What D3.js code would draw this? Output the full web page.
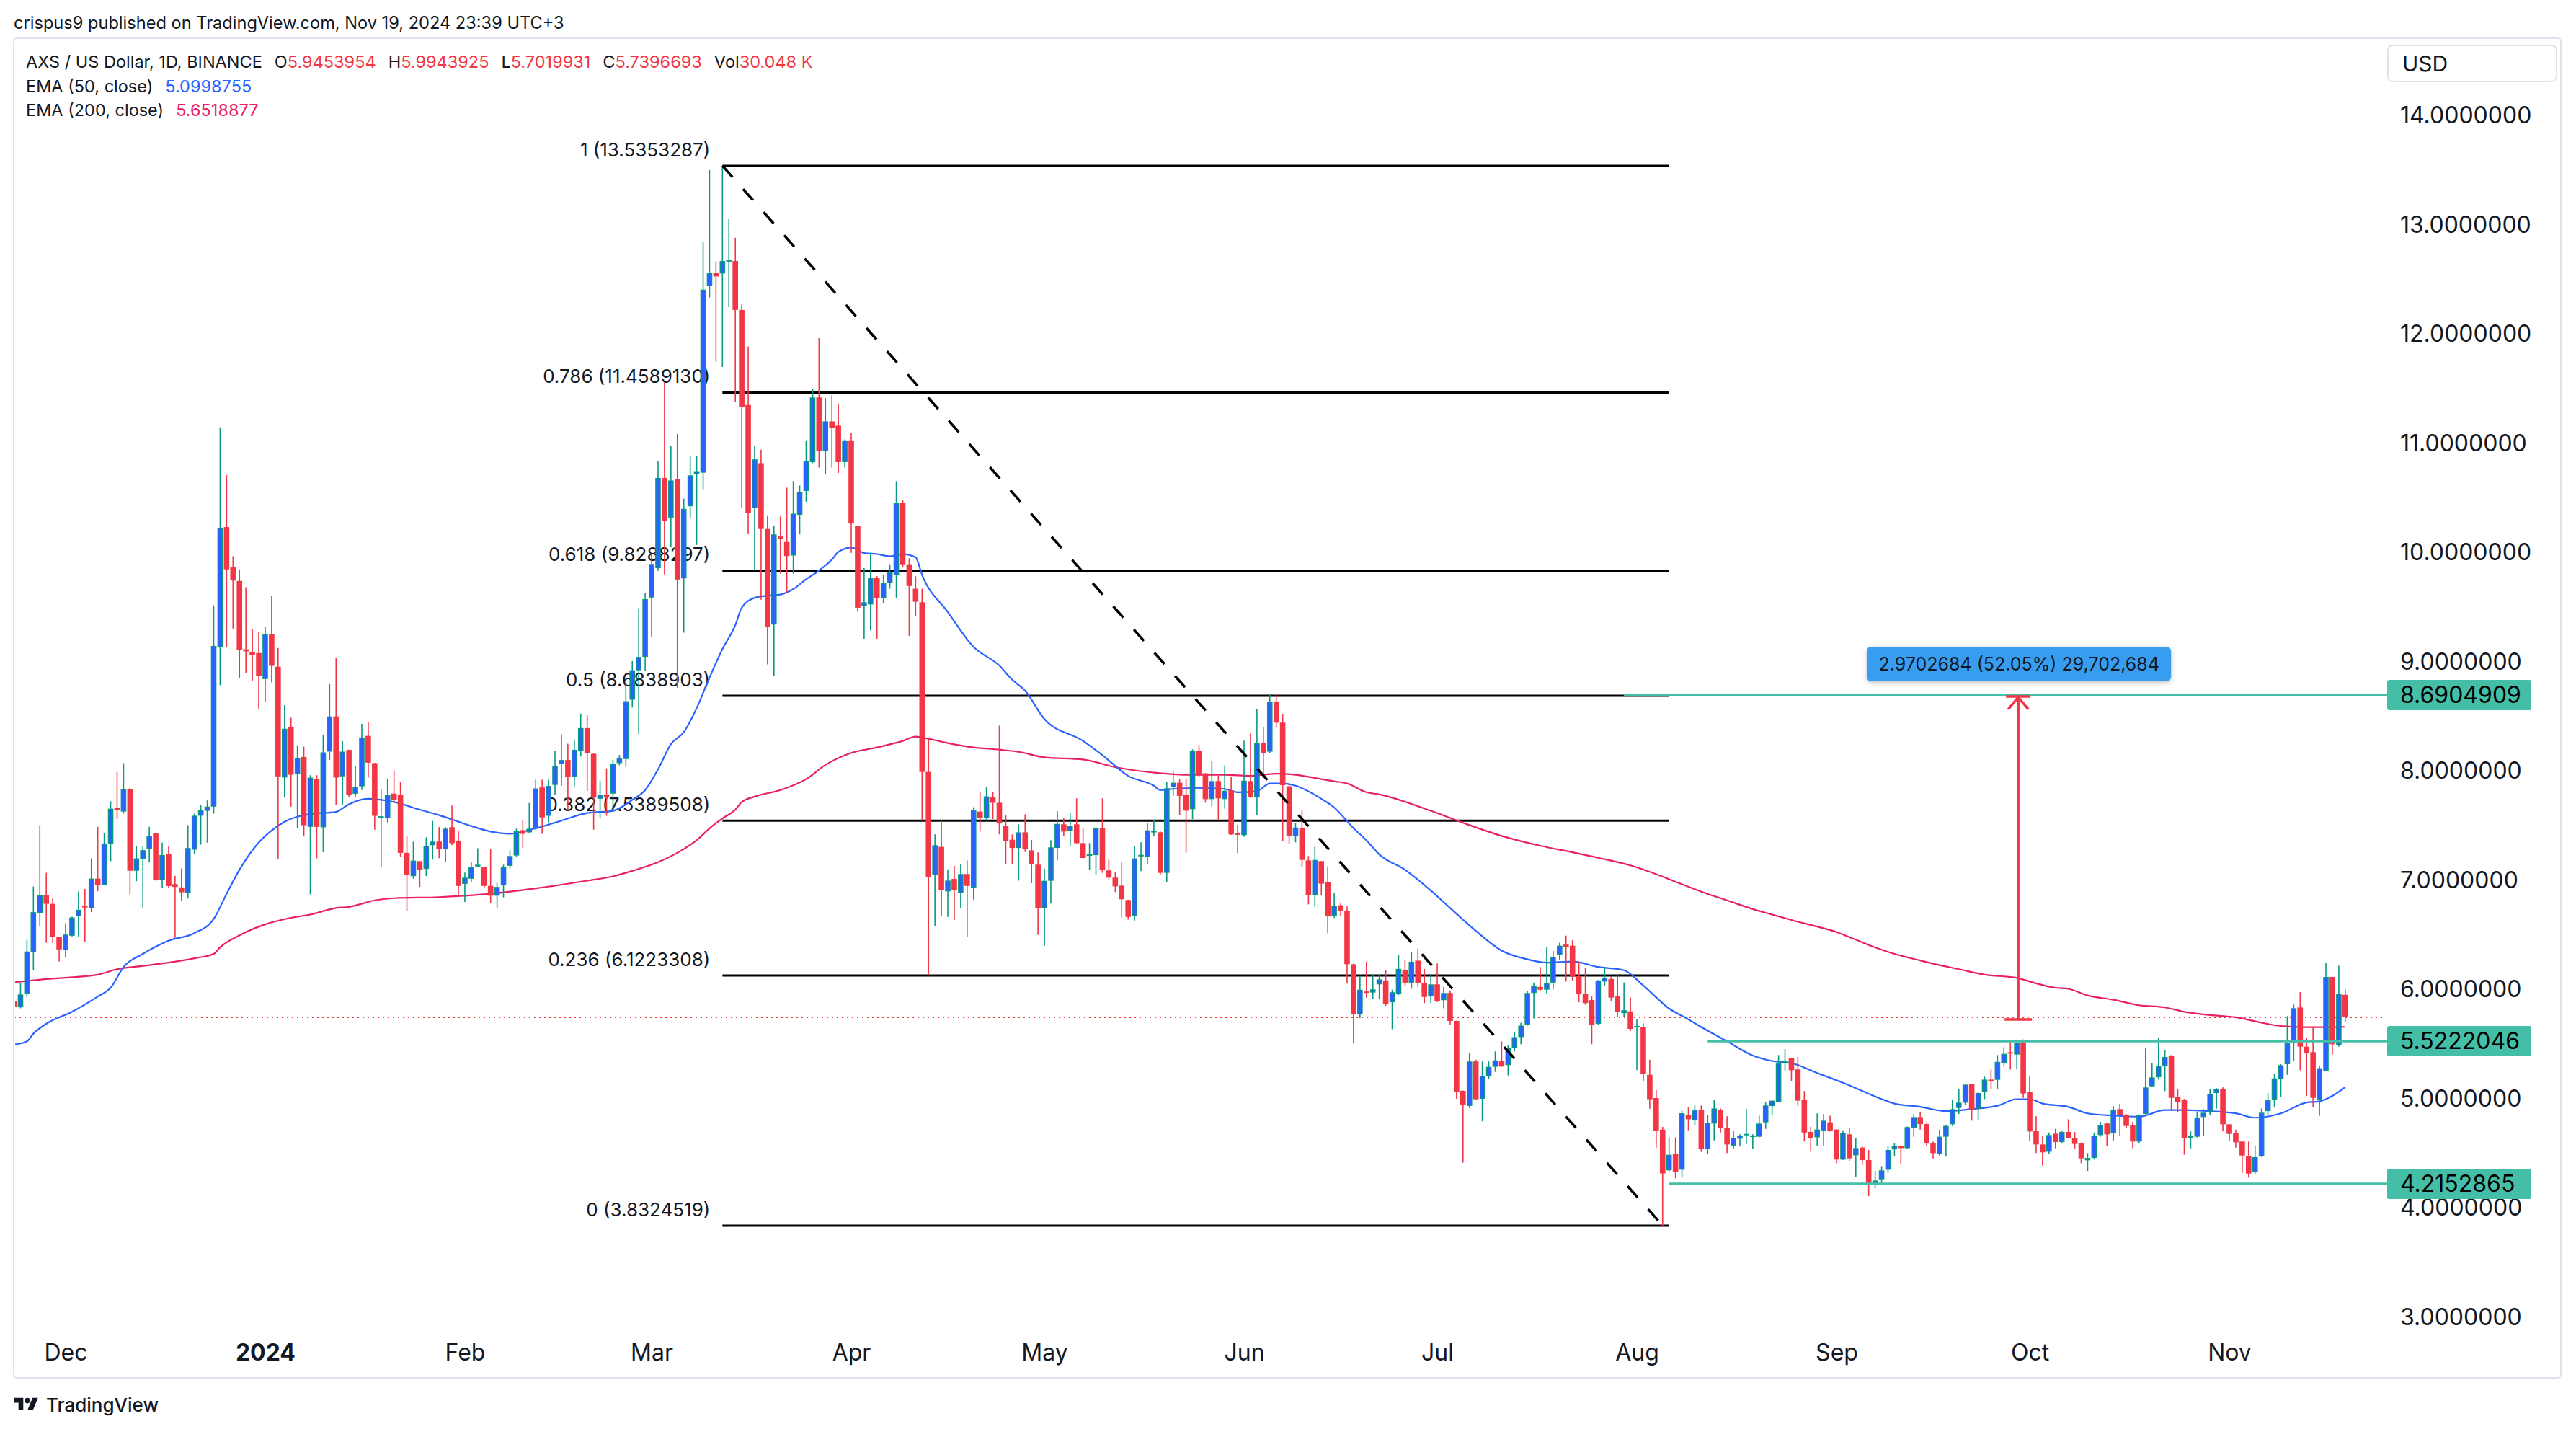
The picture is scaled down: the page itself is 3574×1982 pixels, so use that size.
<!DOCTYPE html>
<html><head><meta charset="utf-8">
<script src="https://cdn.jsdelivr.net/npm/d3@7"></script>
<style>
html,body{margin:0;padding:0;background:#fff;}
svg{display:block;font-family:Inter,"Open Sans",sans-serif;}
</style></head><body>
<svg id="chart" width="3574" height="1982"></svg>
<script>
// ---------------- DATA ----------------
const firstCandleDate = "2023-11-23";   // one candle per day from here
// [open, high, low, close]
const candles = [
// Nov 23 - Nov 30, 2023
[5.887,5.944,5.765,5.834],[5.834,6.058,5.822,5.948],[5.955,6.448,5.925,6.342],[6.334,6.937,6.175,6.702],
[6.694,7.498,6.573,6.857],[6.857,7.062,6.421,6.778],[6.778,6.834,6.421,6.478],[6.474,6.478,6.251,6.361],
// Dec 2023
[6.353,6.600,6.285,6.497],[6.486,6.660,6.480,6.653],[6.664,6.891,6.478,6.724],[6.758,6.914,6.429,6.747],
[6.736,7.194,6.702,7.009],[7.009,7.483,6.895,6.948],[6.952,7.426,6.950,7.331],[7.327,7.718,7.168,7.649],
[7.657,7.983,7.554,7.634],[7.623,8.066,7.604,7.827],[7.831,7.840,6.865,7.081],[7.081,7.308,6.986,7.194],
[7.187,7.308,6.743,7.270],[7.281,7.483,7.157,7.403],[7.422,7.430,6.990,6.997],[6.997,7.338,6.922,7.225],
[7.232,7.308,6.922,6.941],[6.959,7.035,6.467,6.933],[6.929,7.103,6.808,6.884],[6.876,7.498,6.827,7.289],
[7.274,7.604,7.236,7.585],[7.585,7.680,7.320,7.634],[7.630,7.725,7.338,7.668],[7.668,9.510,7.604,9.139],
[9.128,11.140,8.779,10.219],[10.227,10.704,9.131,9.840],[9.859,9.961,9.298,9.738],[9.734,9.840,8.843,9.101],
[9.108,9.677,8.892,9.090],[9.082,9.290,8.816,9.055],[9.074,9.264,8.559,8.862],
// Jan 2024
[8.836,9.317,8.627,9.245],[9.245,9.594,8.805,8.957],[8.949,9.120,7.187,7.945],[7.934,8.597,7.755,8.381],
[8.400,8.483,7.668,7.960],[7.964,8.229,7.471,8.112],[8.123,8.218,7.395,7.498],[7.483,7.956,6.865,7.933],
[7.918,7.956,7.194,7.483],[7.479,8.324,7.251,8.165],[8.172,8.790,8.096,8.494],[8.494,9.033,7.680,7.934],
[7.945,8.267,7.680,8.172],[8.187,8.190,7.755,7.774],[7.785,8.036,7.755,7.850],[7.854,8.426,7.820,8.301],
[8.316,8.445,7.934,8.070],[8.066,8.070,7.457,7.584],[7.570,7.830,7.112,7.580],[7.561,7.924,7.523,7.773],
[7.787,7.999,7.702,7.726],[7.773,7.891,7.207,7.245],[7.245,7.396,6.711,7.041],[7.032,7.348,7.009,7.174],
[7.169,7.170,6.933,7.089],[7.098,7.386,7.032,7.310],[7.315,7.537,7.183,7.348],[7.348,7.481,7.197,7.278],
[7.277,7.480,7.160,7.466],[7.480,7.679,7.315,7.334],[7.357,7.443,6.862,6.942],
// Feb 2024
[6.961,7.065,6.796,7.018],[7.008,7.159,6.980,7.112],[7.121,7.287,7.112,7.136],[7.112,7.115,6.923,6.942],
[6.942,7.277,6.782,6.853],[6.853,6.970,6.744,6.933],[6.947,7.136,6.838,7.112],[7.126,7.268,7.102,7.216],
[7.221,7.466,7.207,7.443],[7.452,7.547,7.292,7.419],[7.433,7.702,7.430,7.466],[7.466,7.915,7.457,7.835],
[7.844,7.915,7.419,7.570],[7.584,7.915,7.523,7.858],[7.867,8.175,7.773,8.042],[8.057,8.330,7.858,8.095],
[8.095,8.245,7.632,7.939],[7.939,8.283,7.854,8.189],[8.175,8.519,8.127,8.387],[8.387,8.505,7.811,8.161],
[8.151,8.155,7.457,7.750],[7.740,7.906,7.561,7.773],[7.773,8.019,7.584,7.759],[7.787,8.095,7.632,8.057],
[8.066,8.142,8.047,8.113],[8.104,8.812,8.033,8.633],[8.647,9.001,8.576,8.916],[8.916,9.483,8.331,9.039],
[9.039,9.624,8.907,9.568],
// Mar 2024
[9.582,9.983,9.224,9.889],[9.851,10.829,9.827,10.677],[10.677,11.551,9.794,10.285],[10.314,10.970,10.050,10.654],
[10.663,11.079,8.756,9.747],[9.757,10.488,9.261,10.394],[10.418,10.880,10.314,10.701],[10.710,10.880,10.064,10.739],
[10.725,12.835,10.574,12.401],[12.434,13.496,12.330,12.552],[12.552,12.660,11.740,12.522],[12.549,13.535,11.693,12.663],
[12.658,13.046,12.240,12.673],[12.663,12.877,11.369,12.215],[12.215,12.265,10.399,11.330],[11.345,11.882,10.165,10.359],
[10.399,10.971,9.837,10.847],[10.812,10.936,9.563,10.210],[10.210,10.335,8.971,9.315],[9.335,10.240,8.867,10.160],
[10.141,10.325,9.802,10.121],[10.091,10.588,9.628,9.962],[9.967,10.648,9.802,10.350],[10.340,10.608,10.160,10.548],
[10.558,11.021,10.459,10.832],[10.822,11.494,10.812,11.414],[11.414,11.957,10.772,10.922],[10.922,11.409,10.713,11.195],
[11.195,11.434,10.772,11.136],[11.156,11.355,10.723,10.822],[10.822,11.030,10.772,11.021],
// Apr 2024
[11.021,11.086,9.991,10.260],[10.235,10.240,9.454,9.489],[9.504,9.852,9.205,9.539],[9.519,9.991,9.280,9.762],
[9.762,9.778,9.205,9.578],[9.578,9.787,9.529,9.713],[9.713,9.887,9.663,9.812],[9.787,10.648,9.578,10.449],
[10.449,10.474,9.862,9.887],[9.887,9.942,9.230,9.688],[9.663,9.777,9.414,9.544],[9.539,9.663,7.538,7.986],
[7.986,8.285,6.122,7.026],[7.041,7.414,6.578,7.315],[7.300,7.538,6.668,6.902],[6.892,7.091,6.658,6.991],
[7.006,7.126,6.628,6.907],[6.877,7.141,6.743,7.051],[7.051,7.175,6.479,6.942],[6.927,7.663,6.817,7.638],
[7.623,7.802,7.439,7.564],[7.564,7.847,7.539,7.762],[7.752,7.802,7.554,7.703],[7.703,8.409,7.414,7.514],
[7.489,7.588,7.141,7.355],[7.365,7.414,7.141,7.290],[7.290,7.506,6.991,7.433],[7.433,7.598,7.253,7.282],
[7.268,7.363,6.967,7.143],[7.137,7.249,6.494,6.740],
// May 2024
[6.740,7.099,6.395,6.989],[6.989,7.361,6.780,7.295],[7.290,7.627,7.176,7.510],[7.506,7.565,7.400,7.440],
[7.447,7.612,7.308,7.491],[7.506,7.744,7.330,7.334],[7.334,7.466,7.194,7.198],[7.226,7.334,7.088,7.231],
[7.224,7.480,7.048,7.469],[7.469,7.744,7.062,7.088],[7.084,7.183,7.004,7.018],[7.018,7.073,6.886,6.938],
[6.945,7.158,6.652,6.820],[6.813,6.815,6.633,6.659],[6.670,7.308,6.626,7.194],[7.222,7.341,7.077,7.226],
[7.209,7.517,7.137,7.451],[7.436,7.550,7.400,7.445],[7.434,7.440,7.048,7.062],[7.062,7.891,6.974,7.836],
[7.847,7.995,7.766,7.887],[7.887,7.924,7.594,7.766],[7.777,7.924,7.247,7.631],[7.645,8.193,7.554,8.177],
[8.177,8.232,7.940,7.962],[7.973,7.975,7.704,7.737],[7.737,8.083,7.671,7.902],[7.902,7.951,7.550,7.744],
[7.737,8.045,7.649,7.814],[7.818,7.942,7.410,7.414],[7.423,7.500,7.242,7.414],
// Jun 2024
[7.407,8.272,7.392,7.906],[7.902,8.338,7.748,7.755],[7.752,8.562,7.588,8.250],[8.250,8.397,7.957,8.160],
[8.171,8.701,8.160,8.628],[8.628,8.701,8.390,8.437],[8.437,8.518,7.352,7.865],[7.854,7.880,7.330,7.401],
[7.396,7.521,7.341,7.477],[7.473,7.631,7.114,7.180],[7.176,7.216,6.773,6.861],[6.861,7.301,6.751,7.180],
[7.169,7.170,6.857,6.963],[6.974,7.121,6.509,6.663],[6.670,6.879,6.648,6.762],[6.765,6.787,6.670,6.714],
[6.714,6.754,6.048,6.226],[6.225,6.231,5.509,5.765],[5.765,6.117,5.732,5.992],[5.976,6.248,5.920,5.963],
[5.966,6.124,5.910,5.995],[6.041,6.133,5.910,6.087],[6.077,6.173,5.844,5.860],[5.877,5.992,5.630,5.969],
[5.953,6.307,5.943,6.183],[6.172,6.258,6.025,6.057],[6.057,6.340,6.001,6.248],[6.258,6.369,6.018,6.051],
[6.051,6.182,5.870,5.926],[5.930,6.133,5.870,6.041],
// Jul 2024
[6.041,6.232,5.880,5.887],[5.896,6.018,5.821,5.962],[5.962,5.985,5.673,5.706],[5.706,5.710,4.993,5.056],
[5.066,5.070,4.409,4.941],[4.928,5.410,4.909,5.335],[5.335,5.351,4.984,4.990],[4.993,5.335,4.787,5.204],
[5.204,5.335,5.174,5.286],[5.286,5.427,5.240,5.345],[5.339,5.519,5.286,5.289],[5.302,5.483,5.207,5.460],
[5.460,5.608,5.427,5.558],[5.558,5.689,5.493,5.663],[5.673,5.979,5.663,5.962],[5.962,6.057,5.729,6.024],
[6.018,6.199,5.985,5.992],[5.992,6.386,5.959,6.051],[6.057,6.346,5.995,6.291],[6.313,6.422,6.264,6.395],
[6.405,6.487,6.067,6.386],[6.395,6.445,6.074,6.116],[6.116,6.248,5.877,5.952],[5.952,6.189,5.854,5.870],
[5.897,5.930,5.493,5.673],[5.679,6.080,5.673,6.077],[6.067,6.199,6.028,6.100],[6.090,6.116,5.887,5.920],
[5.930,6.120,5.745,5.788],[5.778,6.057,5.745,5.804],[5.794,5.920,5.614,5.633],
// Aug 2024
[5.650,5.722,5.256,5.660],[5.650,5.683,5.154,5.220],[5.213,5.351,4.902,4.990],[5.000,5.072,4.547,4.698],
[4.711,4.737,3.832,4.310],[4.338,4.641,4.327,4.481],[4.492,4.641,4.265,4.327],[4.344,4.883,4.278,4.861],
[4.848,4.914,4.705,4.806],[4.795,4.932,4.756,4.892],[4.892,4.932,4.507,4.536],[4.531,4.844,4.485,4.773],
[4.767,4.980,4.613,4.905],[4.888,4.905,4.685,4.729],[4.729,4.833,4.496,4.575],[4.564,4.701,4.531,4.635],
[4.628,4.668,4.562,4.657],[4.663,4.899,4.580,4.672],[4.646,4.668,4.536,4.657],[4.646,4.839,4.641,4.767],
[4.778,4.965,4.718,4.932],[4.927,4.987,4.848,4.976],[4.965,5.394,4.961,5.321],[5.321,5.449,5.244,5.339],
[5.367,5.370,5.156,5.255],[5.262,5.376,4.927,4.976],[4.987,5.064,4.602,4.685],[4.690,4.738,4.509,4.630],
[4.641,4.859,4.562,4.712],[4.701,4.855,4.562,4.793],[4.778,4.839,4.694,4.701],
// Sep 2024
[4.712,4.714,4.404,4.437],[4.437,4.705,4.432,4.683],[4.668,4.723,4.426,4.448],[4.476,4.635,4.278,4.542],
[4.547,4.558,4.388,4.432],[4.432,4.525,4.102,4.206],[4.201,4.333,4.173,4.245],[4.256,4.377,4.212,4.338],
[4.344,4.562,4.316,4.525],[4.531,4.584,4.465,4.564],[4.558,4.564,4.397,4.542],[4.542,4.740,4.536,4.734],
[4.729,4.855,4.646,4.826],[4.826,4.872,4.712,4.762],[4.762,4.778,4.558,4.584],[4.584,4.602,4.448,4.496],
[4.487,4.712,4.470,4.646],[4.646,4.750,4.463,4.745],[4.760,4.983,4.745,4.899],[4.910,5.086,4.855,4.958],
[4.958,5.125,4.936,5.123],[5.130,5.132,4.793,4.892],[4.905,5.057,4.800,5.046],[5.059,5.196,4.991,5.169],
[5.169,5.262,5.081,5.163],[5.167,5.394,5.081,5.332],[5.323,5.466,5.288,5.405],[5.420,5.519,5.262,5.411],
[5.398,5.533,5.268,5.504],[5.511,5.537,5.002,5.042],
// Oct 2024
[5.059,5.200,4.606,4.694],[4.701,4.833,4.496,4.575],[4.575,4.657,4.382,4.503],[4.509,4.685,4.492,4.661],
[4.674,4.718,4.540,4.597],[4.597,4.701,4.591,4.690],[4.690,4.806,4.630,4.635],[4.635,4.690,4.536,4.580],
[4.591,4.592,4.404,4.448],[4.430,4.496,4.333,4.452],[4.452,4.685,4.437,4.657],[4.661,4.782,4.646,4.751],
[4.767,4.770,4.558,4.668],[4.679,4.925,4.613,4.888],[4.899,4.947,4.657,4.844],[4.844,4.855,4.723,4.745],
[4.756,4.784,4.542,4.602],[4.602,4.848,4.591,4.844],[4.855,5.455,4.850,5.097],[5.108,5.323,5.104,5.189],
[5.191,5.548,5.169,5.295],[5.295,5.442,5.064,5.376],[5.387,5.394,4.881,5.002],[5.009,5.079,4.872,4.965],
[4.980,4.993,4.481,4.635],[4.635,4.694,4.540,4.650],[4.646,4.877,4.640,4.822],[4.826,4.899,4.650,4.866],
[4.877,5.079,4.844,5.037],[5.046,5.090,4.905,5.081],[5.079,5.097,4.694,4.760],
// Nov 2024
[4.760,4.763,4.606,4.672],[4.683,4.712,4.547,4.595],[4.602,4.605,4.316,4.474],[4.465,4.602,4.272,4.309],
[4.322,4.558,4.300,4.459],[4.465,4.905,4.460,4.866],[4.880,5.046,4.848,4.980],[4.987,5.222,4.916,5.180],
[5.178,5.310,5.009,5.301],[5.310,5.750,5.213,5.504],[5.504,5.856,5.339,5.823],[5.829,5.970,5.255,5.471],
[5.471,5.552,5.020,5.416],[5.420,5.647,4.916,5.002],[4.987,5.295,4.839,5.273],[5.251,6.241,5.245,6.109],
[6.109,6.110,5.398,5.493],[5.486,6.212,5.471,5.955],[5.9453954,5.9943925,5.7019931,5.7396693]
];

const ema50Dates = ["2023-11-23","2023-11-25","2023-11-26","2023-11-28","2023-12-02","2023-12-06","2023-12-08","2023-12-10","2023-12-13","2023-12-17","2023-12-21","2023-12-24","2023-12-26","2023-12-28","2023-12-31","2024-01-02","2024-01-04","2024-01-08","2024-01-12","2024-01-14","2024-01-17","2024-01-21","2024-01-25","2024-01-28","2024-02-01","2024-02-05","2024-02-08","2024-02-12","2024-02-16","2024-02-20","2024-02-24","2024-02-27","2024-02-29","2024-03-02","2024-03-04","2024-03-06","2024-03-08","2024-03-10","2024-03-12","2024-03-14","2024-03-15","2024-03-17","2024-03-19","2024-03-21","2024-03-23","2024-03-25","2024-03-27","2024-03-29","2024-03-30","2024-04-01","2024-04-03","2024-04-05","2024-04-07","2024-04-09","2024-04-11","2024-04-12","2024-04-16","2024-04-20","2024-04-24","2024-04-26","2024-04-28","2024-05-01","2024-05-07","2024-05-10","2024-05-14","2024-05-18","2024-05-19","2024-05-21","2024-05-25","2024-05-29","2024-05-31","2024-06-03","2024-06-05","2024-06-07","2024-06-09","2024-06-13","2024-06-15","2024-06-18","2024-06-20","2024-06-22","2024-06-26","2024-06-30","2024-07-03","2024-07-07","2024-07-11","2024-07-15","2024-07-18","2024-07-22","2024-07-26","2024-07-30","2024-08-02","2024-08-06","2024-08-09","2024-08-11","2024-08-15","2024-08-19","2024-08-22","2024-08-25","2024-08-29","2024-09-02","2024-09-06","2024-09-10","2024-09-14","2024-09-18","2024-09-22","2024-09-26","2024-09-29","2024-10-01","2024-10-03","2024-10-07","2024-10-10","2024-10-14","2024-10-18","2024-10-22","2024-10-25","2024-10-29","2024-11-02","2024-11-05","2024-11-09","2024-11-13","2024-11-15","2024-11-17","2024-11-19"];
const ema50Values = [5.49,5.52,5.59,5.68,5.79,5.93,6.01,6.20,6.32,6.44,6.51,6.64,6.87,7.09,7.34,7.45,7.53,7.60,7.62,7.69,7.74,7.71,7.64,7.59,7.51,7.44,7.42,7.47,7.54,7.61,7.63,7.73,7.82,8.01,8.24,8.35,8.57,8.85,9.11,9.33,9.49,9.58,9.60,9.61,9.66,9.75,9.83,9.93,10.00,10.04,9.99,9.98,9.96,9.98,9.95,9.79,9.45,9.13,8.96,8.83,8.73,8.47,8.27,8.14,7.95,7.86,7.82,7.83,7.84,7.83,7.80,7.81,7.88,7.88,7.86,7.74,7.66,7.47,7.36,7.23,7.09,6.90,6.74,6.53,6.35,6.27,6.24,6.25,6.20,6.17,6.03,5.82,5.72,5.65,5.52,5.39,5.34,5.32,5.23,5.14,5.04,4.95,4.92,4.88,4.90,4.93,4.99,4.99,4.95,4.92,4.86,4.84,4.83,4.89,4.89,4.88,4.86,4.82,4.86,4.96,4.97,5.02,5.0998755];

const ema200Dates = ["2023-11-23","2023-11-28","2023-12-06","2023-12-09","2023-12-13","2023-12-21","2023-12-24","2023-12-25","2023-12-28","2024-01-01","2024-01-05","2024-01-08","2024-01-12","2024-01-14","2024-01-18","2024-01-21","2024-01-28","2024-02-05","2024-02-12","2024-02-20","2024-02-24","2024-02-27","2024-03-02","2024-03-06","2024-03-08","2024-03-10","2024-03-12","2024-03-14","2024-03-15","2024-03-17","2024-03-21","2024-03-25","2024-03-28","2024-04-01","2024-04-05","2024-04-09","2024-04-11","2024-04-13","2024-04-16","2024-04-20","2024-04-24","2024-04-27","2024-05-01","2024-05-07","2024-05-12","2024-05-18","2024-05-23","2024-05-29","2024-06-02","2024-06-04","2024-06-06","2024-06-09","2024-06-13","2024-06-15","2024-06-17","2024-06-20","2024-06-22","2024-06-30","2024-07-05","2024-07-11","2024-07-17","2024-07-22","2024-07-26","2024-07-31","2024-08-04","2024-08-07","2024-08-11","2024-08-15","2024-08-19","2024-08-22","2024-08-25","2024-08-29","2024-09-01","2024-09-04","2024-09-07","2024-09-10","2024-09-14","2024-09-16","2024-09-20","2024-09-24","2024-09-29","2024-10-02","2024-10-05","2024-10-07","2024-10-10","2024-10-14","2024-10-18","2024-10-22","2024-10-25","2024-10-29","2024-11-02","2024-11-06","2024-11-09","2024-11-13","2024-11-17","2024-11-19"];
const ema200Values = [6.06,6.09,6.13,6.18,6.21,6.28,6.32,6.38,6.49,6.59,6.65,6.68,6.74,6.75,6.81,6.83,6.84,6.87,6.92,6.99,7.03,7.08,7.16,7.28,7.36,7.47,7.56,7.64,7.71,7.76,7.82,7.92,8.05,8.16,8.21,8.27,8.31,8.29,8.25,8.21,8.19,8.17,8.12,8.10,8.03,7.98,7.96,7.96,7.95,7.96,7.97,7.96,7.92,7.90,7.88,7.80,7.78,7.63,7.52,7.40,7.31,7.25,7.20,7.13,7.05,6.98,6.89,6.81,6.73,6.68,6.63,6.57,6.52,6.45,6.38,6.32,6.26,6.23,6.18,6.13,6.10,6.05,6.01,6.00,5.94,5.90,5.85,5.83,5.79,5.76,5.74,5.69,5.66,5.65,5.65,5.6518877];

const monthTickDates = ["2023-12-01","2024-01-01","2024-02-01","2024-03-01","2024-04-01","2024-05-01","2024-06-01","2024-07-01","2024-08-01","2024-09-01","2024-10-01","2024-11-01"];
const monthTickLabels = ["Dec","2024","Feb","Mar","Apr","May","Jun","Jul","Aug","Sep","Oct","Nov"];
const priceTicks = [3,4,5,6,7,8,9,10,11,12,13,14];

const fibRatios = ["1","0.786","0.618","0.5","0.382","0.236","0"];
const fibPrices = [13.5353287,11.4589130,9.8288297,8.6838903,7.5389508,6.1223308,3.8324519];
const fibFrom = "2024-03-12", fibTo = "2024-08-05", fibLinesTo = "2024-08-06";

const levelPrices = [8.6904909,5.5222046,4.2152865];
const levelStarts = ["2024-07-30","2024-08-12","2024-08-06"];

const measureDate = "2024-09-29";
const measureFrom = 5.7202225, measureTo = 8.6904909;
const measureText = "2.9702684 (52.05%) 29,702,684";

const lastClose = 5.7396693;
const headerTitle = "crispus9 published on TradingView.com, Nov 19, 2024 23:39 UTC+3";
const ohlcLabels = ["O","H","L","C","Vol"];
const ohlcValues = ["5.9453954","5.9943925","5.7019931","5.7396693","30.048 K"];
const emaLegend = [["EMA (50, close)","5.0998755"],["EMA (200, close)","5.6518877"]];

// ---------------- STYLE ----------------
const UP="#089981", DOWN="#f23645", UPFILL="#2962ff", EMA50C="#2962ff", EMA200C="#e91e63",
      TEAL="#45bea7", TXT="#131722", FRAME="#e0e3eb";

const svg = d3.select("#chart");
const parse = d3.utcParse("%Y-%m-%d");
const x = d3.scaleUtc().domain([parse("2023-12-01"), parse("2024-11-01")]).range([91, 3093]);
const y = d3.scaleLinear().domain([3, 14]).range([1826, 159.5]);

const t0 = parse(firstCandleDate);
const data = candles.map((c,i)=>({date:d3.utcDay.offset(t0,i),o:c[0],h:c[1],l:c[2],c:c[3]}));

// frame
svg.append("rect").attr("x",19).attr("y",53).attr("width",3534).attr("height",1858)
  .attr("rx",4).attr("fill","#fff").attr("stroke",FRAME).attr("stroke-width",2);

// clip for plot area
svg.append("defs").append("clipPath").attr("id","plotclip")
  .append("rect").attr("x",21).attr("y",55).attr("width",3285).attr("height",1790);
const plot = svg.append("g").attr("clip-path","url(#plotclip)");

// last price dotted line
plot.append("line").attr("x1",20).attr("x2",3305).attr("y1",y(lastClose)).attr("y2",y(lastClose))
  .attr("stroke",DOWN).attr("stroke-width",2).attr("stroke-dasharray","2,5");

// fib lines + labels (under the candles)
const fx1 = x(parse(fibFrom)), fx2 = x(parse(fibLinesTo));
fibPrices.forEach((p,i)=>{
  plot.append("line").attr("x1",fx1).attr("x2",fx2).attr("y1",y(p)).attr("y2",y(p))
    .attr("stroke","#000").attr("stroke-width",3);
  plot.append("text").attr("x",fx1-17).attr("y",y(p)-13).attr("text-anchor","end")
    .attr("font-size",26).attr("fill",TXT)
    .text(fibRatios[i]+" ("+p.toFixed(7)+")");
});

// EMA lines
const line = d3.line().x(d=>x(d[0])).y(d=>y(d[1])).curve(d3.curveMonotoneX);
plot.append("path").datum(ema200Dates.map((d,i)=>[parse(d),ema200Values[i]]))
  .attr("d",line).attr("fill","none").attr("stroke",EMA200C).attr("stroke-width",2.2);
plot.append("path").datum(ema50Dates.map((d,i)=>[parse(d),ema50Values[i]]))
  .attr("d",line).attr("fill","none").attr("stroke",EMA50C).attr("stroke-width",2.2);

// candles
const bw = 7.6, bord = 1.3;
const cg = plot.append("g");
data.forEach(d=>{
  const cx = x(d.date), up = d.c >= d.o;
  const col = up ? UP : DOWN;
  cg.append("line").attr("x1",cx).attr("x2",cx).attr("y1",y(d.h)).attr("y2",y(d.l))
    .attr("stroke",col).attr("stroke-width",1.6);
  const top = y(Math.max(d.o,d.c)), bot = y(Math.min(d.o,d.c));
  const hgt = Math.max(bot-top, 2);
  cg.append("rect").attr("x",cx-bw/2).attr("y",top).attr("width",bw).attr("height",hgt).attr("fill",col);
  if (up && hgt > 2*bord+0.5) {
    cg.append("rect").attr("x",cx-bw/2+bord).attr("y",top+bord).attr("width",bw-2*bord)
      .attr("height",hgt-2*bord).attr("fill",UPFILL);
  }
});

// fib dashed trend line
plot.append("line").attr("x1",fx1).attr("y1",y(fibPrices[0])).attr("x2",x(parse(fibTo))).attr("y2",y(fibPrices[6]))
  .attr("stroke","#000").attr("stroke-width",3.5).attr("stroke-dasharray","21,22");

// teal horizontal levels
levelPrices.forEach((p,i)=>{
  svg.append("line").attr("x1",x(parse(levelStarts[i]))).attr("x2",3312).attr("y1",y(p)).attr("y2",y(p))
    .attr("stroke",TEAL).attr("stroke-width",3.5);
});

// measurement arrow
const mx = x(parse(measureDate)) + 2;
const mg = svg.append("g").attr("stroke",DOWN).attr("stroke-width",3.5).attr("fill","none");
mg.append("line").attr("x1",mx).attr("x2",mx).attr("y1",y(measureFrom)).attr("y2",y(measureTo));
mg.append("line").attr("x1",mx-19).attr("x2",mx+19).attr("y1",y(measureFrom)).attr("y2",y(measureFrom));
mg.append("line").attr("x1",mx-17).attr("x2",mx+17).attr("y1",y(measureTo)+2).attr("y2",y(measureTo)+2);
mg.append("polyline").attr("points",`${mx-14},${y(measureTo)+20} ${mx},${y(measureTo)+3} ${mx+14},${y(measureTo)+20}`);

// measurement label
const lblG = svg.append("g");
lblG.append("rect").attr("x",mx-210).attr("y",y(measureTo)-67).attr("width",422).attr("height",48)
  .attr("rx",6).attr("fill","#379df1").style("filter","drop-shadow(0px 2px 3px rgba(0,0,0,0.25))");
lblG.append("text").attr("x",mx+1).attr("y",y(measureTo)-34).attr("text-anchor","middle")
  .attr("font-size",25).attr("fill",TXT).text(measureText);

// price axis
const yAxis = d3.axisRight(y).tickValues(priceTicks).tickFormat(d3.format(".7f")).tickSize(0).tickPadding(0);
const ya = svg.append("g").attr("transform","translate(3330,0)").call(yAxis);
ya.select(".domain").remove();
ya.selectAll("text").attr("font-size",32).attr("fill",TXT).attr("font-family","Inter,sans-serif").attr("dy","0.35em");

// teal price labels
levelPrices.forEach(p=>{
  svg.append("rect").attr("x",3312).attr("y",y(p)-21).attr("width",200).attr("height",42).attr("rx",3).attr("fill",TEAL);
  svg.append("text").attr("x",3330).attr("y",y(p)).attr("dy","0.35em").attr("font-size",32).attr("fill","#000").text(p.toFixed(7));
});

// USD box
svg.append("rect").attr("x",3313).attr("y",63).attr("width",234).attr("height",50).attr("rx",7)
  .attr("fill","#fff").attr("stroke",FRAME).attr("stroke-width",2);
svg.append("text").attr("x",3333).attr("y",88).attr("dy","0.35em").attr("font-size",30).attr("fill",TXT).text("USD");

// time axis
const xAxis = d3.axisBottom(x).tickValues(monthTickDates.map(parse))
  .tickFormat((d,i)=>monthTickLabels[i]).tickSize(0).tickPadding(0);
const xa = svg.append("g").attr("transform","translate(0,1876)").call(xAxis);
xa.select(".domain").remove();
xa.selectAll("text").attr("font-size",32).attr("fill",TXT).attr("font-family","Inter,sans-serif").attr("dy","0.35em")
  .attr("font-weight",(d,i)=>monthTickLabels[i]==="2024"?"bold":"normal");

// header
svg.append("text").attr("x",19).attr("y",32).attr("dy","0.35em").attr("font-size",23.6).attr("fill",TXT).text(headerTitle);
const h2 = svg.append("text").attr("x",36).attr("y",86).attr("dy","0.35em").attr("font-size",23.5).attr("fill",TXT);
h2.append("tspan").text("AXS / US Dollar, 1D, BINANCE");
ohlcLabels.forEach((l,i)=>{
  h2.append("tspan").attr("dx",17).text(l);
  h2.append("tspan").attr("fill",DOWN).text(ohlcValues[i]);
});
emaLegend.forEach((e,i)=>{
  const t = svg.append("text").attr("x",36).attr("y",120+i*33).attr("dy","0.35em").attr("font-size",23.5).attr("fill",TXT);
  t.append("tspan").text(e[0]);
  t.append("tspan").attr("dx",17).attr("fill",i===0?EMA50C:EMA200C).text(e[1]);
});

// footer logo
const logo = svg.append("g").attr("transform","translate(19,1935) scale(0.95)").attr("fill",TXT);
logo.append("path").attr("d","M14 22H7V11H0V4h14v18zM28 22h-8l7.5-18h8L28 22z");
logo.append("circle").attr("cx",20).attr("cy",8).attr("r",4);
svg.append("text").attr("x",64).attr("y",1949).attr("dy","0.35em").attr("font-size",26).attr("font-weight",500).attr("fill",TXT).text("TradingView");
</script>
</body></html>
